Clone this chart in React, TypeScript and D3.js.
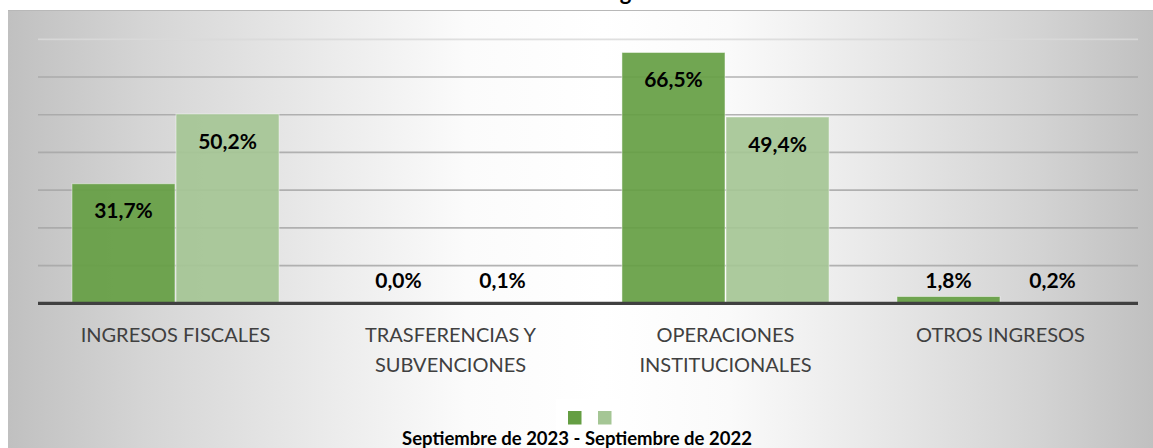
import * as d3 from "d3";

const categories = [
  ["INGRESOS FISCALES"],
  ["TRASFERENCIAS Y", "SUBVENCIONES"],
  ["OPERACIONES", "INSTITUCIONALES"],
  ["OTROS INGRESOS"],
];
const seriesNames = ["Septiembre de 2023", "Septiembre de 2022"];
const values2023 = [31.7, 0.0, 66.5, 1.8];
const values2022 = [50.2, 0.1, 49.4, 0.2];
const gridTicks = [10, 20, 30, 40, 50, 60, 70];
const colors = ["#659e43", "#a5c695"];

const W = 1153;
const H = 448;
const plot = { left: 38, right: 1138, top: 39.3, bottom: 303.3 };

const fmt = (v: number) => d3.format(".1f")(v).replace(".", ",") + "%";

export default function App() {
  const x0 = d3
    .scaleBand<number>()
    .domain(d3.range(categories.length))
    .range([plot.left, plot.right])
    .paddingInner(0.247)
    .paddingOuter(0.1235);
  const x1 = d3
    .scaleBand<number>()
    .domain([0, 1])
    .range([0, x0.bandwidth()])
    .paddingInner(0.01);
  const y = d3.scaleLinear().domain([0, 70]).range([plot.bottom, plot.top]);

  const series = [values2023, values2022];

  return (
    <svg
      width={W}
      height={H}
      style={{ position: "absolute", left: 0, top: 0 }}
      fontFamily="Lato, 'Open Sans', sans-serif"
    >
      <defs>
        <linearGradient id="bg" x1="0" x2="1" y1="0" y2="0">
          <stop offset="0" stopColor="#c0c0c0" />
          <stop offset="0.12" stopColor="#d5d5d5" />
          <stop offset="0.28" stopColor="#ebebeb" />
          <stop offset="0.4" stopColor="#fbfbfb" />
          <stop offset="0.52" stopColor="#ffffff" />
          <stop offset="0.63" stopColor="#fafafa" />
          <stop offset="0.78" stopColor="#e5e5e5" />
          <stop offset="0.9" stopColor="#d3d3d3" />
          <stop offset="1" stopColor="#c0c0c0" />
        </linearGradient>
      </defs>

      {/* chart title, mostly cut off at the top as in the source */}
      <text x={601} y={0} fontSize={22} fontWeight={700} fill="#000">
        Ingresos
      </text>

      <rect x={8} y={10} width={W - 8} height={H - 10} fill="url(#bg)" />
      <line x1={8} x2={W} y1={10.5} y2={10.5} stroke="#b8b8b8" />

      {/* gridlines */}
      {gridTicks.map((t, i) => (
        <line
          key={t}
          x1={plot.left}
          x2={plot.right}
          y1={y(t)}
          y2={y(t)}
          stroke={i === gridTicks.length - 1 ? "#d9d9d9" : "#a6a6a6"}
          strokeOpacity={0.85}
          strokeWidth={1.7}
        />
      ))}

      {/* bars */}
      {series.map((vals, s) =>
        vals.map((v, i) => {
          const bx = (x0(i) ?? 0) + (x1(s) ?? 0);
          const top = y(v);
          return (
            <rect
              key={`${s}-${i}`}
              x={bx}
              y={top}
              width={x1.bandwidth()}
              height={Math.max(plot.bottom - top, 0)}
              fill={colors[s]}
              fillOpacity={0.92}
              stroke="#ffffff"
              strokeOpacity={0.45}
              strokeWidth={1}
            />
          );
        })
      )}

      {/* baseline */}
      <line
        x1={plot.left}
        x2={plot.right}
        y1={plot.bottom}
        y2={plot.bottom}
        stroke="#404040"
        strokeWidth={3.3}
      />

      {/* data labels */}
      {series.map((vals, s) =>
        vals.map((v, i) => {
          const cx = (x0(i) ?? 0) + (x1(s) ?? 0) + x1.bandwidth() / 2;
          const cy = Math.min(y(v) + 27, plot.bottom - 23);
          return (
            <text
              key={`l${s}-${i}`}
              x={cx}
              y={cy}
              dy="0.36em"
              textAnchor="middle"
              fontSize={21}
              fontWeight={700}
              fill="#000"
            >
              {fmt(v)}
            </text>
          );
        })
      )}

      {/* category labels */}
      {categories.map((lines, i) => (
        <text
          key={`c${i}`}
          x={(x0(i) ?? 0) + x0.bandwidth() / 2}
          y={342}
          textAnchor="middle"
          fontSize={20}
          fill="#404040"
        >
          {lines.map((ln, k) => (
            <tspan key={k} x={(x0(i) ?? 0) + x0.bandwidth() / 2} dy={k === 0 ? 0 : 29.5}>
              {ln}
            </tspan>
          ))}
        </text>
      ))}

      {/* legend */}
      <rect x={556} y={399} width={64} height={33} fill="#ffffff" fillOpacity={0.7} />
      {seriesNames.map((n, s) => (
        <rect key={n} x={568 + s * 30} y={411} width={13.5} height={13.5} fill={colors[s]} />
      ))}
      <text x={577} y={445} textAnchor="middle" fontSize={18.5} fontWeight={700} fill="#000">
        {seriesNames.join(" - ")}
      </text>
    </svg>
  );
}
